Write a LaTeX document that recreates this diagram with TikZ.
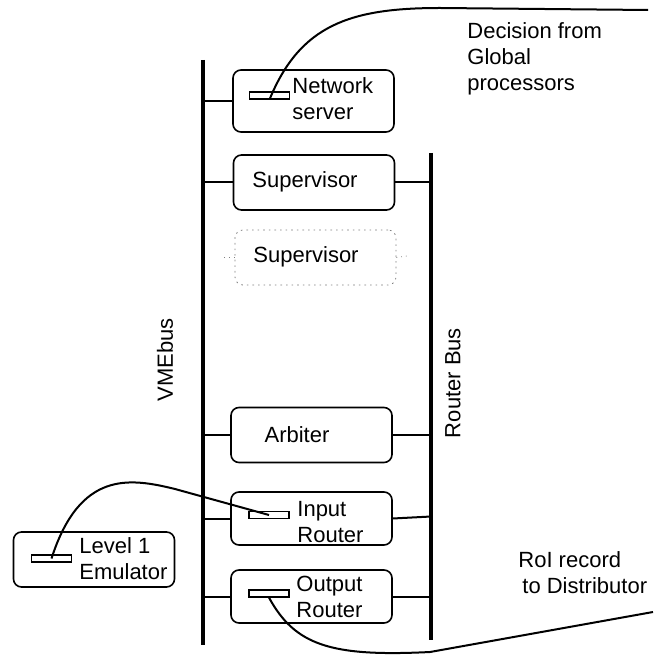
\documentclass[tikz,border=0pt]{standalone}
\usepackage{fontspec}
\setmainfont{Liberation Sans}
\begin{document}
\begin{tikzpicture}[x=0.5pt,y=-0.5pt,
		font=\fontsize{11}{13}\selectfont,
		card/.style={draw,thick,rounded corners=4pt,minimum width=80.5pt,minimum height=27.5pt,inner sep=0pt},
		port/.style={draw,semithick,minimum width=20pt,minimum height=3.5pt,inner sep=0pt},
		bus/.style={line width=2pt},
		link/.style={line width=1pt},
		lbl/.style={align=left,inner sep=0pt}]
			\useasboundingbox (0,0) rectangle (653,657);
			
			% the two buses
			\coordinate (vmetop) at (203,60);
			\coordinate (vmebot) at (203,645);
			\coordinate (rbtop) at (431,153);
			\coordinate (rbbot) at (431,640);
			\draw[bus] (vmetop) -- (vmebot);
			\draw[bus] (rbtop) -- (rbbot);
			\node[rotate=90] (vmelbl) at (165,360) {VMEbus};
			\node[rotate=90] (rblbl) at (453,383) {Router Bus};
			
			% cards
			\node[card,minimum height=31pt] (netsrv) at (313.5,101) {};
			\node[card] (sup) at (314,182.5) {};
			\node[card,draw=gray,dotted,thin] (supdup) at (315.5,257.5) {};
			\node[card] (arb) at (311.5,435) {};
			\node[card,minimum height=26.5pt] (inrt) at (311.5,518.5) {};
			\node[card,minimum height=26.5pt] (outrt) at (311.5,596.5) {};
			\node[card] (emu) at (94,559.5) {};
			
			\node[port] (nsport) at (269.5,95.5) {};
			\node[port] (inport) at (269,515) {};
			\node[port] (outport) at (269,593.5) {};
			\node[port] (emuport) at (51.5,558.5) {};
			
			\node[lbl,anchor=west] (nstext) at (292,99) {Network\\server};
			\node (suptext) at (305,182) {Supervisor};
			\node (supduptext) at (306,257) {Supervisor};
			\node (arbtext) at (297,435) {Arbiter};
			\node[lbl,anchor=west] (intext) at (297,522) {Input\\Router};
			\node[lbl,anchor=west] (outtext) at (296,597) {Output\\Router};
			\node[lbl,anchor=west] (emutext) at (79,559) {Level 1\\Emulator};
			
			% taps onto the buses
			\draw[link] (netsrv.west) -- (netsrv.west -| vmetop);
			\draw[link] (sup.west) -- (sup.west -| vmetop);
			\draw[link] (sup.east) -- (sup.east -| rbtop);
			\draw[gray,dotted] (supdup.west) -- ++(-11,0);
			\draw[gray,dotted] (supdup.east) -- ++(14,-2);
			\draw[link] (arb.west) -- (arb.west -| vmetop);
			\draw[link] (arb.east) -- (arb.east -| rbtop);
			\draw[link] (inrt.west) -- (inrt.west -| vmetop);
			\draw[link] (inrt.east) -- ([yshift=1pt]inrt.east -| rbtop);
			\draw[link] (outrt.west) -- (outrt.west -| vmetop);
			\draw[link] (outrt.east) -- (outrt.east -| rbtop);
			
			% external links
			\coordinate (gp) at (648,10);
			\coordinate (dist) at (653,612);
			\draw[link] (nsport.south) .. controls (300,25) and (350,8) .. (440,8) -- (gp);
			\draw[link] (emuport.center) .. controls (80,470) and (130,478) .. (175,489) -- (inport.center);
			\draw[link] (outport.south) .. controls (295,645) and (330,657) .. (430,652) -- (dist);
			
			\node[lbl,anchor=north west] (gptext) at (467,22) {Decision from\\Global\\processors};
			\node[lbl,anchor=north west] (disttext) at (518,551) {RoI record\\\hspace{2pt}to Distributor};
		\end{tikzpicture}
\end{document}
